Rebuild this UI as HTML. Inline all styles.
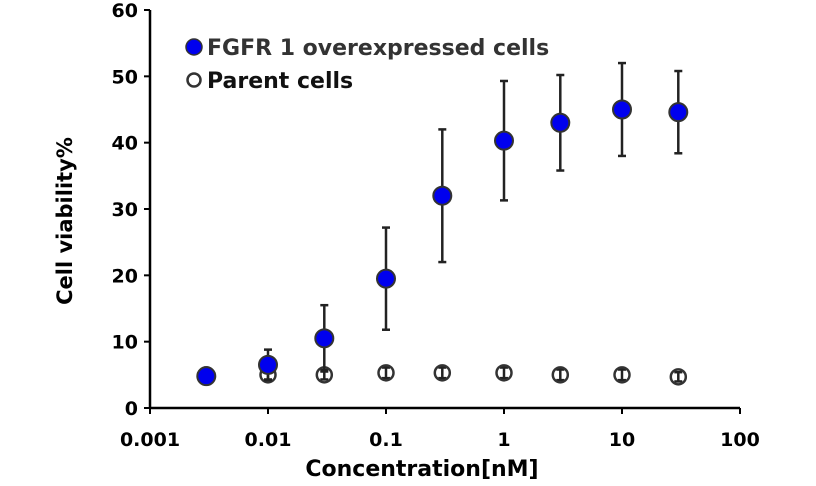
<!DOCTYPE html>
<html><head><meta charset="utf-8"><style>
body{margin:0;background:#fff;}
svg{display:block;font-family:"DejaVu Sans","Liberation Sans",Arial,sans-serif;font-weight:bold;}
</style></head><body>
<svg id="chart" width="816" height="486" viewBox="0 0 816 486" xmlns="http://www.w3.org/2000/svg"></svg>
<script>
const concentrations=[0.003,0.01,0.03,0.1,0.3,1,3,10,30];
const fgfrValues=[4.8,6.5,10.5,19.5,32,40.3,43,45,44.6];
const fgfrErrors=[0.5,2.3,5,7.7,10,9,7.2,7,6.2];
const parentValues=[5,5,5,5.3,5.3,5.3,5,5,4.7];
const parentErrors=[0.6,0.7,0.7,0.8,0.8,0.8,0.8,0.8,0.7];
const xTicks=[0.001,0.01,0.1,1,10,100];
const xTickLabels=["0.001","0.01","0.1","1","10","100"];
const yTicks=[0,10,20,30,40,50,60];

const NS="http://www.w3.org/2000/svg";
const svg=document.getElementById('chart');
const X0=150,X1=740,Y0=408,Y1=10;
function xs(v){return X0+(Math.log10(v)+3)/5*(X1-X0);}
function ys(v){return Y0-v/60*(Y0-Y1);}
function mk(t,a,p){const e=document.createElementNS(NS,t);for(const k in a)e.setAttribute(k,a[k]);(p||svg).appendChild(e);return e;}

let ax=mk('line',{x1:X0,y1:Y1,x2:X0,y2:Y0,stroke:'#000','stroke-width':2.5});


let bx=mk('line',{x1:X0,y1:Y0,x2:X1,y2:Y0,stroke:'#000','stroke-width':2.5});



yTicks.forEach(v=>{
  const y=ys(v);
  mk('line',{x1:X0-6,y1:y,x2:X0,y2:y,stroke:'#000','stroke-width':2});
  const t=mk('text',{x:X0-12,y:y+7,'text-anchor':'end','font-size':19});
  t.textContent=v;
  
  
});
xTicks.forEach((v,i)=>{
  const x=xs(v);
  mk('line',{x1:x,y1:Y0,x2:x,y2:Y0+6,stroke:'#000','stroke-width':2});
  const t=mk('text',{x:x,y:446,'text-anchor':'middle','font-size':19});
  t.textContent=xTickLabels[i];
  
  
});
let xt=mk('text',{x:422,y:476,'text-anchor':'middle','font-size':22});
xt.textContent='Concentration[nM]';


let yt=mk('text',{x:0,y:0,'text-anchor':'middle','font-size':21,transform:'translate(72,221) rotate(-90)'});
yt.textContent='Cell viability%';



function series(vals,errs,fill,name){
  vals.forEach((v,i)=>{
    const x=xs(concentrations[i]);
    const g=mk('g',{});
    
    
    mk('line',{x1:x,y1:ys(v+errs[i]),x2:x,y2:ys(v-errs[i]),stroke:'#222','stroke-width':2.5},g);
    mk('line',{x1:x-4,y1:ys(v+errs[i]),x2:x+4,y2:ys(v+errs[i]),stroke:'#222','stroke-width':2.5},g);
    mk('line',{x1:x-4,y1:ys(v-errs[i]),x2:x+4,y2:ys(v-errs[i]),stroke:'#222','stroke-width':2.5},g);
    mk('circle',{cx:x,cy:ys(v),r:fill==='none'?7.5:9,fill:fill==='none'?'none':fill,stroke:'#333','stroke-width':fill==='none'?2.5:2},g);
  });
}
series(parentValues,parentErrors,'none','parent');
series(fgfrValues,fgfrErrors,'#0000ee','fgfr1');

let l1=mk('g',{});


mk('circle',{cx:194,cy:47,r:8,fill:'#0000ee',stroke:'#333','stroke-width':1.5},l1);
let t1=mk('text',{x:207,y:55,'font-size':22,fill:'#333'},l1);
t1.textContent='FGFR 1 overexpressed cells';
let l2=mk('g',{});


mk('circle',{cx:194,cy:80,r:6.5,fill:'none',stroke:'#333','stroke-width':2.5},l2);
let t2=mk('text',{x:207,y:88,'font-size':22,fill:'#111'},l2);
t2.textContent='Parent cells';
</script>
</body></html>
